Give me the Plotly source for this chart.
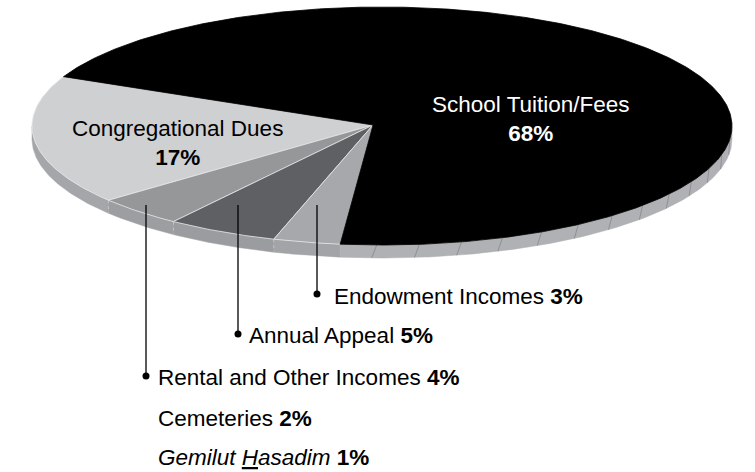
import numpy as np
import plotly.graph_objects as go

# ---- data ----
categories = ["Congregational Dues", "Rental and Other Incomes", "Annual Appeal",
              "Endowment Incomes", "School Tuition/Fees"]
values = [17, 4, 5, 3, 68]
top_colors = ["#cfd0d2", "#959799", "#5f6064", "#a6a8ab", "#000000"]
side_colors = ["#a4a6a9", "#9c9ea1", "#9a9c9f", "#a2a4a7", "#afb1b4"]

label_names = ["Endowment Incomes", "Annual Appeal", "Rental and Other Incomes",
               "Cemeteries", "<i>Gemilut <u>H</u>asadim</i>"]
label_values = ["3%", "5%", "4%", "2%", "1%"]

# ---- geometry (layout/style) ----
W, H = 755, 472
cx, cy = 382, 126          # ellipse centre (px)
ax_, bx_ = 350, 119        # semi axes
thick = 13                 # pie thickness
apex = (373, 125)
start_angle = 155.5        # degrees, counter-clockwise (y up)
FONT = "Liberation Sans, Arial, Helvetica, sans-serif"
FS = 22.5

def rim(theta_deg, dy=0.0):
    t = np.radians(theta_deg)
    return cx + ax_ * np.cos(t), cy - bx_ * np.sin(t) + dy

total = float(sum(values))
spans = [v / total * 360.0 for v in values]
bounds = [start_angle]
for s in spans:
    bounds.append(bounds[-1] + s)

fig = go.Figure()

# side faces (front half: 180..360 deg)
for i, cat in enumerate(categories):
    a0, a1 = bounds[i], bounds[i + 1]
    segs = []
    for lo, hi in [(180, 360), (540, 720)]:
        s0, s1 = max(a0, lo), min(a1, hi)
        if s1 > s0:
            segs.append((s0, s1))
    for s0, s1 in segs:
        th = np.linspace(s0, s1, 120)
        xt, yt = rim(th)
        xb, yb = rim(th[::-1], thick)
        fig.add_trace(go.Scatter(
            x=np.concatenate([xt, xb, xt[:1]]), y=np.concatenate([yt, yb, yt[:1]]),
            fill="toself", fillcolor=side_colors[i], mode="lines",
            line=dict(color=side_colors[i], width=0.5), hoverinfo="skip", showlegend=False))

# faint ticks on side band
tx, ty = [], []
for ang in np.arange(bounds[4] % 360 + 6, 362, 7.0):
    if ang > 359:
        continue
    x0, y0 = rim(ang)
    x1, y1 = rim(ang - 0.8, thick)
    tx += [x0, x1, None]
    ty += [y0, y1, None]
fig.add_trace(go.Scatter(x=tx, y=ty, mode="lines", line=dict(color="#808285", width=0.7),
                         hoverinfo="skip", showlegend=False))
# slice boundary lines on side
sx, sy = [], []
for b in bounds[1:4]:
    x0, y0 = rim(b)
    x1, y1 = rim(b, thick)
    sx += [x0, x1, None]
    sy += [y0, y1, None]
fig.add_trace(go.Scatter(x=sx, y=sy, mode="lines", line=dict(color="#c9cacc", width=0.8, dash="dot"),
                         hoverinfo="skip", showlegend=False))

# top faces
for i, cat in enumerate(categories):
    th = np.linspace(bounds[i], bounds[i + 1], max(int(spans[i] * 2), 10))
    xr, yr = rim(th)
    xs = np.concatenate([[apex[0]], xr, [apex[0]]])
    ys = np.concatenate([[apex[1]], yr, [apex[1]]])
    fig.add_trace(go.Scatter(
        x=xs, y=ys, fill="toself", fillcolor=top_colors[i], mode="lines",
        line=dict(color="#e6e7e8" if i < 4 else "#000000", width=0.8),
        name=cat, hoverinfo="name", showlegend=False))

# leader lines + dots
lead_x = [317, 238, 146]
lead_top = 205
lead_y = [294, 334, 376]
lx, ly = [], []
for x, y in zip(lead_x, lead_y):
    lx += [x, x, None]
    ly += [lead_top, y, None]
fig.add_trace(go.Scatter(x=lx, y=ly, mode="lines", line=dict(color="#000000", width=1.3),
                         hoverinfo="skip", showlegend=False))
fig.add_trace(go.Scatter(x=lead_x, y=lead_y, mode="markers",
                         marker=dict(color="#000000", size=7), hoverinfo="skip", showlegend=False))

annotations = []
label_x = [332, 247, 156, 156, 156]
label_y = [296, 335, 377, 418, 457]
for name, val, x, y in zip(label_names, label_values, label_x, label_y):
    annotations.append(dict(x=x, y=y, xref="x", yref="y", xanchor="left", yanchor="middle",
                            text=f"{name} <b>{val}</b>", showarrow=False,
                            font=dict(family=FONT, size=FS, color="#000000")))
annotations.append(dict(x=177, y=143, xref="x", yref="y", xanchor="center", yanchor="middle",
                        text=f"{categories[0]}<br><b>{values[0]}%</b>", showarrow=False,
                        font=dict(family=FONT, size=FS, color="#000000")))
annotations.append(dict(x=531, y=119, xref="x", yref="y", xanchor="center", yanchor="middle",
                        text=f"{categories[4]}<br><b>{values[4]}%</b>", showarrow=False,
                        font=dict(family=FONT, size=FS, color="#ffffff")))

fig.update_layout(
    width=W, height=H, margin=dict(l=0, r=0, t=0, b=0),
    paper_bgcolor="#ffffff", plot_bgcolor="#ffffff",
    xaxis=dict(range=[0, W], visible=False, fixedrange=True),
    yaxis=dict(range=[H, 0], visible=False, fixedrange=True),
    annotations=annotations, showlegend=False,
)
fig.write_html("out.html", config={"displayModeBar": False},
               post_script="document.body.style.margin='0';document.body.style.overflow='hidden';")
